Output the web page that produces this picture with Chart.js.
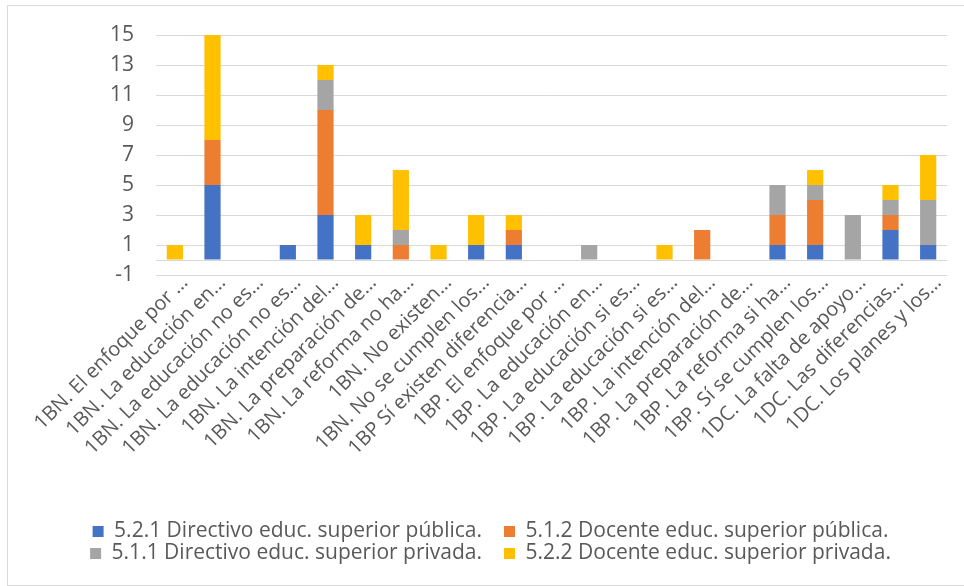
<!DOCTYPE html>
<html lang="es">
<head>
<meta charset="utf-8">
<title>Respuestas por categoría</title>
<script src="https://cdn.jsdelivr.net/npm/chart.js@4.4.1/dist/chart.umd.min.js"></script>
<style>
  html, body { margin: 0; padding: 0; background: #fff; overflow: hidden; }
  #frame {
    position: absolute;
    left: 7px;
    top: 5px;
    width: 1000px;
    height: 579px;
    border: 1px solid #d9d9d9;
  }
  #chart { position: absolute; left: 0; top: 0; }
</style>
</head>
<body>
<div id="frame"></div>
<canvas id="chart" width="964" height="586"></canvas>
<script>
const categories = [
  "1BN. El enfoque por …",
  "1BN. La educación en…",
  "1BN. La educación no es…",
  "1BN. La educación no es…",
  "1BN. La intención del…",
  "1BN. La preparación de…",
  "1BN. La reforma no ha…",
  "1BN. No existen…",
  "1BN. No se cumplen los…",
  "1BP Sí existen diferencia…",
  "1BP. El enfoque por …",
  "1BP. La educación en…",
  "1BP. La educación si es…",
  "1BP. La educación si es…",
  "1BP. La intención del…",
  "1BP. La preparación de…",
  "1BP. La reforma si ha…",
  "1BP. Sí se cumplen los…",
  "1DC. La falta de apoyo…",
  "1DC. Las diferencias…",
  "1DC. Los planes y los…",
];

const directivoPublica = [0, 5, 0, 1, 3, 1, 0, 0, 1, 1, 0, 0, 0, 0, 0, 0, 1, 1, 0, 2, 1];
const docentePublica   = [0, 3, 0, 0, 7, 0, 1, 0, 0, 1, 0, 0, 0, 0, 2, 0, 2, 3, 0, 1, 0];
const directivoPrivada = [0, 0, 0, 0, 2, 0, 1, 0, 0, 0, 0, 1, 0, 0, 0, 0, 2, 1, 3, 1, 3];
const docentePrivada   = [1, 7, 0, 0, 1, 2, 4, 1, 2, 1, 0, 0, 0, 1, 0, 0, 0, 1, 0, 1, 3];

const yMin = -1;
const yMax = 15;
const yStep = 2;

const textColor = "#595959";
const gridColor = "#d9d9d9";

function series(label, data, color) {
  return {
    label: label,
    data: data,
    backgroundColor: color,
    borderWidth: 0,
    barPercentage: 0.43,
    categoryPercentage: 1,
  };
}

// nudge the legend a little, like the original
const legendShift = {
  id: "legendShift",
  afterLayout(chart) {
    chart.legend.left += 24;
    chart.legend.right += 24;
  },
};

new Chart(document.getElementById("chart"), {
  type: "bar",
  data: {
    labels: categories,
    datasets: [
      series("5.2.1 Directivo educ. superior pública.", directivoPublica, "#4472c4"),
      series("5.1.2 Docente educ. superior pública.", docentePublica, "#ed7d31"),
      series("5.1.1 Directivo educ. superior privada.", directivoPrivada, "#a5a5a5"),
      series("5.2.2 Docente educ. superior privada.", docentePrivada, "#ffc000"),
    ],
  },
  plugins: [legendShift],
  options: {
    responsive: false,
    animation: false,
    layout: { padding: { left: 7, right: 17, top: 35, bottom: 12 } },
    plugins: {
      tooltip: { enabled: false },
      legend: {
        position: "bottom",
        labels: {
          boxWidth: 11,
          boxHeight: 11,
          padding: 1,
          color: textColor,
          font: { family: "'Open Sans'", size: 21 },
          // extra gap between the two items of a row
          generateLabels: (chart) =>
            Chart.defaults.plugins.legend.labels.generateLabels(chart).map((item) => {
              item.text = item.text + "\u2002\u2002";
              return item;
            }),
        },
      },
    },
    scales: {
      x: {
        stacked: true,
        grid: { display: false },
        border: { display: false },
        ticks: {
          autoSkip: false,
          minRotation: 45,
          maxRotation: 45,
          labelOffset: 10,
          padding: -12,
          color: textColor,
          font: { family: "'Open Sans'", size: 20 },
        },
        afterFit: (axis) => { axis.height = 245; },
      },
      y: {
        stacked: true,
        min: yMin,
        max: yMax,
        border: { display: false },
        grid: { color: gridColor, lineWidth: 1, drawTicks: false },
        ticks: {
          autoSkip: false,
          stepSize: yStep,
          padding: 22,
          color: textColor,
          font: { family: "'Open Sans'", size: 21 },
          callback: (v) => (v === 0 ? "" : v),
        },
        afterBuildTicks: (axis) => {
          axis.ticks.push({ value: 0 });
          axis.ticks.sort((a, b) => a.value - b.value);
        },
        afterFit: (axis) => { axis.width = 149; },
      },
    },
  },
});
</script>
</body>
</html>
